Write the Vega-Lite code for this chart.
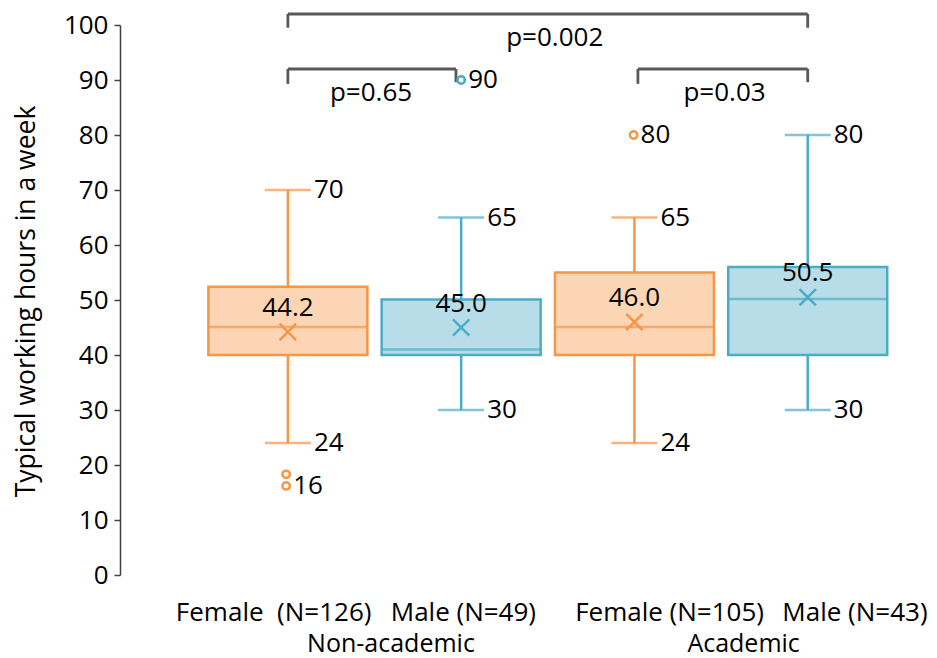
{
  "$schema": "https://vega.github.io/schema/vega-lite/v6.json",
  "width": 792,
  "height": 550,
  "autosize": {"type": "none"},
  "padding": {"left": 120, "top": 25, "right": 25, "bottom": 83},
  "background": "white",
  "config": {
    "view": {"stroke": null},
    "font": "Open Sans",
    "text": {"font": "Open Sans"}
  },
  "datasets": {
    "boxes": [
      {"pos": 1, "grp": "F", "q1": 40, "q3": 52.4, "med": 45.1, "mean": 44.2, "lo": 24, "hi": 70},
      {"pos": 2, "grp": "M", "q1": 40, "q3": 50.1, "med": 41, "mean": 45.0, "lo": 30, "hi": 65},
      {"pos": 3, "grp": "F", "q1": 40, "q3": 55, "med": 45.1, "mean": 46.0, "lo": 24, "hi": 65},
      {"pos": 4, "grp": "M", "q1": 40, "q3": 56, "med": 50.2, "mean": 50.5, "lo": 30, "hi": 80}
    ],
    "outliers": [
      {"pos": 0.99, "grp": "F", "v": 18.3, "lab": ""},
      {"pos": 0.99, "grp": "F", "v": 16.2, "lab": "16"},
      {"pos": 2, "grp": "M", "v": 90, "lab": "90"},
      {"pos": 2.995, "grp": "F", "v": 80, "lab": "80"}
    ],
    "brackets": [
      {"x": 1, "x2": 4, "y": 102, "y2": 102},
      {"x": 1, "x2": 1, "y": 102, "y2": 99.5},
      {"x": 4, "x2": 4, "y": 102, "y2": 99.5},
      {"x": 1, "x2": 1.97, "y": 92, "y2": 92},
      {"x": 1, "x2": 1, "y": 92, "y2": 89.3},
      {"x": 1.97, "x2": 1.97, "y": 92, "y2": 89.6},
      {"x": 3.02, "x2": 4, "y": 92, "y2": 92},
      {"x": 3.02, "x2": 3.02, "y": 92, "y2": 89.3},
      {"x": 4, "x2": 4, "y": 92, "y2": 89.6}
    ],
    "pvals": [
      {"x": 2.54, "y": 97.6, "t": "p=0.002"},
      {"x": 1.48, "y": 87.6, "t": "p=0.65"},
      {"x": 3.52, "y": 87.6, "t": "p=0.03"}
    ],
    "groups": [
      {"x": 1.595, "lab": "Non-academic"},
      {"x": 3.63, "lab": "Academic"}
    ]
  },
  "encoding": {
    "x": {
      "field": "pos",
      "type": "quantitative",
      "scale": {"domain": [0.06, 4.573], "nice": false, "zero": false},
      "axis": {
        "title": null,
        "values": [0.915, 2.01, 3.2, 4.27],
        "labelExpr": "datum.value < 1.5 ? 'Female\u00a0 (N=126)' : datum.value < 2.5 ? 'Male (N=49)' : datum.value < 3.5 ? 'Female (N=105)' : 'Male (N=43)'",
        "domain": false,
        "ticks": false,
        "tickSize": 0,
        "grid": false,
        "labelFont": "Open Sans",
        "labelFontSize": 26,
        "labelColor": "#000000",
        "labelBaseline": "middle",
        "labelPadding": 37,
        "labelLimit": 0,
        "labelFlush": false,
        "labelOverlap": false
      }
    }
  },
  "layer": [
    {
      "data": {"name": "brackets"},
      "mark": {"type": "rule", "stroke": "#595959", "strokeWidth": 2.8},
      "encoding": {
        "x": {"field": "x", "type": "quantitative"},
        "x2": {"field": "x2"},
        "y": {"field": "y", "type": "quantitative"},
        "y2": {"field": "y2"}
      }
    },
    {
      "data": {"name": "boxes"},
      "mark": {"type": "rule", "strokeWidth": 2.5},
      "encoding": {
        "y": {
          "field": "hi",
          "type": "quantitative",
          "scale": {"domain": [0, 100], "nice": false, "zero": true},
          "axis": {
            "title": "Typical working hours in a week",
            "values": [0, 10, 20, 30, 40, 50, 60, 70, 80, 90, 100],
            "grid": false,
            "domainColor": "#404040",
            "domainWidth": 1.5,
            "tickColor": "#404040",
            "tickWidth": 1.5,
            "tickSize": 6,
            "labelPadding": 6,
            "labelFont": "Open Sans",
            "labelFontSize": 26,
            "labelColor": "#000000",
            "titleFont": "Open Sans",
            "titleFontSize": 26.5,
            "titleFontWeight": "normal",
            "titleColor": "#000000",
            "titleAngle": 270,
            "titleBaseline": "middle",
            "titleAlign": "center",
            "titleX": -94,
            "titleY": 276
          }
        },
        "y2": {"field": "q3"},
        "color": {"field": "grp", "type": "nominal", "scale": {"domain": ["F", "M"], "range": ["#F79646", "#4BACC6"]}, "legend": null}
      }
    },
    {
      "data": {"name": "boxes"},
      "mark": {"type": "rule", "strokeWidth": 2.5},
      "encoding": {
        "y": {"field": "lo", "type": "quantitative"},
        "y2": {"field": "q1"},
        "color": {"field": "grp", "type": "nominal", "legend": null}
      }
    },
    {
      "data": {"name": "boxes"},
      "mark": {"type": "tick", "orient": "horizontal", "size": 46, "thickness": 2.5},
      "encoding": {
        "y": {"field": "hi", "type": "quantitative"},
        "color": {"field": "grp", "type": "nominal", "legend": null}
      }
    },
    {
      "data": {"name": "boxes"},
      "mark": {"type": "tick", "orient": "horizontal", "size": 46, "thickness": 2.5},
      "encoding": {
        "y": {"field": "lo", "type": "quantitative"},
        "color": {"field": "grp", "type": "nominal", "legend": null}
      }
    },
    {
      "data": {"name": "boxes"},
      "mark": {"type": "bar", "width": 159, "strokeWidth": 2.5},
      "encoding": {
        "y": {"field": "q1", "type": "quantitative"},
        "y2": {"field": "q3"},
        "fill": {"field": "grp", "type": "nominal", "scale": {"domain": ["F", "M"], "range": ["#FCD5B5", "#B7DEE8"]}, "legend": null},
        "stroke": {"field": "grp", "type": "nominal", "scale": {"domain": ["F", "M"], "range": ["#F79646", "#4BACC6"]}, "legend": null}
      }
    },
    {
      "data": {"name": "boxes"},
      "mark": {"type": "tick", "orient": "horizontal", "size": 159, "thickness": 2.5},
      "encoding": {
        "y": {"field": "med", "type": "quantitative"},
        "color": {"field": "grp", "type": "nominal", "legend": null}
      }
    },
    {
      "data": {"name": "boxes"},
      "mark": {"type": "point", "shape": "M-1,-1L1,1M-1,1L1,-1", "filled": false, "size": 270, "strokeWidth": 2.5, "opacity": 1},
      "encoding": {
        "y": {"field": "mean", "type": "quantitative"},
        "color": {"field": "grp", "type": "nominal", "legend": null}
      }
    },
    {
      "data": {"name": "boxes"},
      "mark": {"type": "text", "fontSize": 26, "color": "#000000", "baseline": "middle", "align": "center", "dy": -24},
      "encoding": {
        "y": {"field": "mean", "type": "quantitative"},
        "text": {"field": "mean", "type": "quantitative", "format": ".1f"}
      }
    },
    {
      "data": {"name": "boxes"},
      "mark": {"type": "text", "fontSize": 26, "color": "#000000", "baseline": "middle", "align": "left", "dx": 26},
      "encoding": {
        "y": {"field": "hi", "type": "quantitative"},
        "text": {"field": "hi", "type": "quantitative"}
      }
    },
    {
      "data": {"name": "boxes"},
      "mark": {"type": "text", "fontSize": 26, "color": "#000000", "baseline": "middle", "align": "left", "dx": 26},
      "encoding": {
        "y": {"field": "lo", "type": "quantitative"},
        "text": {"field": "lo", "type": "quantitative"}
      }
    },
    {
      "data": {"name": "outliers"},
      "mark": {"type": "point", "shape": "circle", "filled": false, "fill": "#FFFFFF", "size": 55, "strokeWidth": 2.5, "opacity": 1},
      "encoding": {
        "y": {"field": "v", "type": "quantitative"},
        "color": {"field": "grp", "type": "nominal", "legend": null}
      }
    },
    {
      "data": {"name": "outliers"},
      "mark": {"type": "text", "fontSize": 26, "color": "#000000", "baseline": "middle", "align": "left", "dx": 7},
      "encoding": {
        "y": {"field": "v", "type": "quantitative"},
        "text": {"field": "lab", "type": "nominal"}
      }
    },
    {
      "data": {"name": "pvals"},
      "mark": {"type": "text", "fontSize": 26, "color": "#000000", "baseline": "middle", "align": "center"},
      "encoding": {
        "x": {"field": "x", "type": "quantitative"},
        "y": {"field": "y", "type": "quantitative"},
        "text": {"field": "t", "type": "nominal"}
      }
    },
    {
      "data": {"name": "groups"},
      "mark": {"type": "text", "fontSize": 25, "color": "#000000", "baseline": "middle", "align": "center"},
      "encoding": {
        "x": {"field": "x", "type": "quantitative"},
        "y": {"datum": -12.5},
        "text": {"field": "lab", "type": "nominal"}
      }
    }
  ]
}
